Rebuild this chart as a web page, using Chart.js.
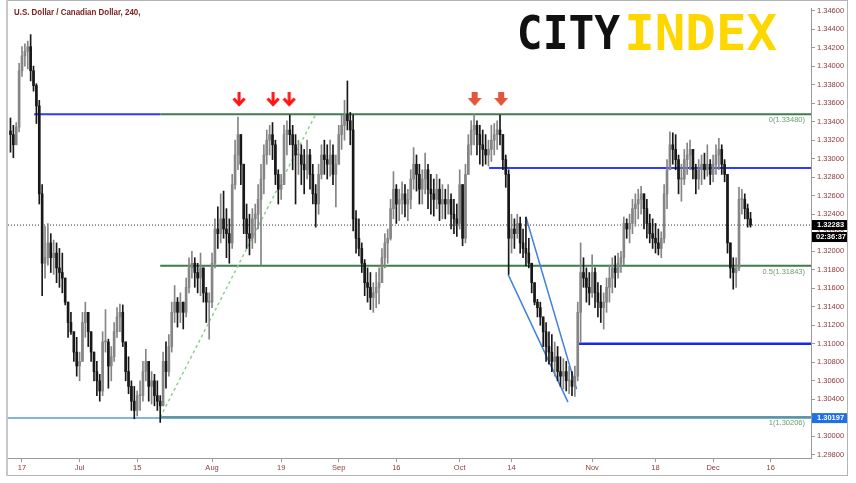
<!DOCTYPE html>
<html>
<head>
<meta charset="utf-8">
<title>USD/CAD 240</title>
<script src="https://cdn.jsdelivr.net/npm/chart.js@4.4.0/dist/chart.umd.min.js"></script>
<style>
  html, body { margin: 0; padding: 0; background: #fff; }
  #wrap { width: 856px; height: 483px; }
</style>
</head>
<body>
<div id="wrap"><canvas id="fxChart" width="856" height="483"></canvas></div>
<script>
// half-day candles, x = trading days counted from Mon 17 Jun 2019
const firstDay = -2;
const barStep = 0.5;
const firstOpen = 1.3330;

const highs = [
  1.3344, 1.3336, 1.3339, 1.3403, 1.3421, 1.3424, 1.3427, 1.3434, 1.3400, 1.3381,
  1.3363, 1.3272, 1.3227, 1.3230, 1.3219, 1.3212, 1.3209, 1.3203, 1.3198, 1.3166,
  1.3137, 1.3134, 1.3113, 1.3107, 1.3091, 1.3134, 1.3145, 1.3134, 1.3113, 1.3088,
  1.3081, 1.3067, 1.3113, 1.3137, 1.3105, 1.3097, 1.3123, 1.3139, 1.3143, 1.3142,
  1.3095, 1.3086, 1.3060, 1.3054, 1.3049, 1.3060, 1.3081, 1.3094, 1.3081, 1.3070,
  1.3067, 1.3060, 1.3044, 1.3091, 1.3102, 1.3110, 1.3145, 1.3163, 1.3150, 1.3155,
  1.3145, 1.3171, 1.3193, 1.3200, 1.3193, 1.3187, 1.3198, 1.3177, 1.3161, 1.3155,
  1.3198, 1.3235, 1.3248, 1.3262, 1.3265, 1.3246, 1.3235, 1.3283, 1.3320, 1.3345,
  1.3326, 1.3288, 1.3251, 1.3240, 1.3246, 1.3251, 1.3272, 1.3294, 1.3315, 1.3331,
  1.3336, 1.3339, 1.3320, 1.3288, 1.3283, 1.3336, 1.3341, 1.3347, 1.3336, 1.3326,
  1.3320, 1.3315, 1.3310, 1.3320, 1.3310, 1.3294, 1.3272, 1.3294, 1.3315, 1.3320,
  1.3315, 1.3320, 1.3315, 1.3304, 1.3336, 1.3347, 1.3363, 1.3384, 1.3350, 1.3347,
  1.3244, 1.3235, 1.3209, 1.3191, 1.3182, 1.3177, 1.3166, 1.3177, 1.3182, 1.3203,
  1.3219, 1.3224, 1.3256, 1.3286, 1.3272, 1.3267, 1.3275, 1.3272, 1.3267, 1.3288,
  1.3312, 1.3304, 1.3294, 1.3288, 1.3306, 1.3294, 1.3283, 1.3278, 1.3283, 1.3278,
  1.3272, 1.3267, 1.3272, 1.3262, 1.3256, 1.3251, 1.3288, 1.3267, 1.3294, 1.3326,
  1.3341, 1.3348, 1.3341, 1.3336, 1.3331, 1.3326, 1.3320, 1.3336, 1.3338, 1.3341,
  1.3347, 1.3322, 1.3304, 1.3288, 1.3240, 1.3235, 1.3240, 1.3237, 1.3224, 1.3237,
  1.3214, 1.3187, 1.3166, 1.3148, 1.3145, 1.3127, 1.3123, 1.3113, 1.3110, 1.3102,
  1.3097, 1.3086, 1.3084, 1.3081, 1.3076, 1.3070, 1.3076, 1.3145, 1.3209, 1.3193,
  1.3182, 1.3177, 1.3196, 1.3182, 1.3166, 1.3163, 1.3155, 1.3171, 1.3185, 1.3193,
  1.3195, 1.3198, 1.3200, 1.3237, 1.3235, 1.3240, 1.3256, 1.3262, 1.3267, 1.3270,
  1.3262, 1.3256, 1.3240, 1.3235, 1.3230, 1.3224, 1.3221, 1.3272, 1.3299, 1.3329,
  1.3328, 1.3326, 1.3304, 1.3294, 1.3310, 1.3317, 1.3320, 1.3310, 1.3294, 1.3299,
  1.3304, 1.3306, 1.3315, 1.3299, 1.3304, 1.3315, 1.3322, 1.3315, 1.3299, 1.3283,
  1.3209, 1.3193, 1.3193, 1.3269, 1.3267, 1.3262, 1.3251, 1.3242
];

const lows = [
  1.3307, 1.3301, 1.3318, 1.3329, 1.3389, 1.3400, 1.3397, 1.3384, 1.3373, 1.3338,
  1.3251, 1.3152, 1.3171, 1.3185, 1.3177, 1.3175, 1.3166, 1.3161, 1.3155, 1.3142,
  1.3107, 1.3110, 1.3081, 1.3065, 1.3060, 1.3081, 1.3107, 1.3097, 1.3081, 1.3060,
  1.3044, 1.3038, 1.3044, 1.3091, 1.3052, 1.3060, 1.3081, 1.3107, 1.3113, 1.3097,
  1.3060, 1.3046, 1.3028, 1.3019, 1.3022, 1.3028, 1.3038, 1.3060, 1.3038, 1.3035,
  1.3033, 1.3028, 1.3015, 1.3033, 1.3052, 1.3065, 1.3091, 1.3123, 1.3118, 1.3123,
  1.3116, 1.3129, 1.3155, 1.3171, 1.3161, 1.3155, 1.3152, 1.3145, 1.3123, 1.3105,
  1.3139, 1.3182, 1.3203, 1.3209, 1.3214, 1.3193, 1.3187, 1.3203, 1.3267, 1.3288,
  1.3272, 1.3219, 1.3203, 1.3196, 1.3203, 1.3209, 1.3224, 1.3185, 1.3262, 1.3294,
  1.3304, 1.3299, 1.3272, 1.3251, 1.3256, 1.3278, 1.3304, 1.3315, 1.3288, 1.3251,
  1.3283, 1.3272, 1.3262, 1.3278, 1.3267, 1.3251, 1.3226, 1.3240, 1.3278, 1.3283,
  1.3278, 1.3281, 1.3272, 1.3248, 1.3294, 1.3310, 1.3320, 1.3331, 1.3315, 1.3222,
  1.3198, 1.3195, 1.3177, 1.3152, 1.3145, 1.3137, 1.3134, 1.3139, 1.3143, 1.3166,
  1.3182, 1.3187, 1.3212, 1.3235, 1.3230, 1.3233, 1.3240, 1.3237, 1.3233, 1.3246,
  1.3267, 1.3265, 1.3251, 1.3251, 1.3262, 1.3246, 1.3240, 1.3238, 1.3246, 1.3233,
  1.3235, 1.3235, 1.3240, 1.3224, 1.3219, 1.3216, 1.3224, 1.3206, 1.3209, 1.3286,
  1.3304, 1.3315, 1.3304, 1.3294, 1.3292, 1.3294, 1.3292, 1.3297, 1.3304, 1.3310,
  1.3315, 1.3288, 1.3269, 1.3175, 1.3198, 1.3203, 1.3214, 1.3198, 1.3193, 1.3184,
  1.3182, 1.3155, 1.3142, 1.3129, 1.3120, 1.3097, 1.3081, 1.3078, 1.3070, 1.3065,
  1.3060, 1.3054, 1.3051, 1.3049, 1.3046, 1.3044, 1.3043, 1.3060, 1.3102, 1.3161,
  1.3145, 1.3142, 1.3150, 1.3139, 1.3129, 1.3123, 1.3116, 1.3134, 1.3145, 1.3155,
  1.3161, 1.3171, 1.3177, 1.3185, 1.3214, 1.3209, 1.3219, 1.3227, 1.3235, 1.3240,
  1.3224, 1.3214, 1.3209, 1.3203, 1.3198, 1.3196, 1.3193, 1.3209, 1.3246, 1.3288,
  1.3294, 1.3288, 1.3262, 1.3254, 1.3272, 1.3283, 1.3288, 1.3278, 1.3262, 1.3267,
  1.3272, 1.3278, 1.3281, 1.3272, 1.3275, 1.3283, 1.3288, 1.3283, 1.3275, 1.3198,
  1.3171, 1.3159, 1.3161, 1.3179, 1.3240, 1.3235, 1.3226, 1.3226
];

const closes = [
  1.3326, 1.3315, 1.3334, 1.3395, 1.3411, 1.3416, 1.3421, 1.3395, 1.3379, 1.3357,
  1.3262, 1.3187, 1.3193, 1.3209, 1.3193, 1.3198, 1.3182, 1.3177, 1.3171, 1.3145,
  1.3123, 1.3113, 1.3091, 1.3076, 1.3081, 1.3123, 1.3134, 1.3113, 1.3091, 1.3070,
  1.3060, 1.3049, 1.3102, 1.3102, 1.3076, 1.3086, 1.3113, 1.3129, 1.3134, 1.3102,
  1.3070, 1.3054, 1.3038, 1.3028, 1.3044, 1.3044, 1.3070, 1.3081, 1.3054, 1.3060,
  1.3044, 1.3038, 1.3033, 1.3081, 1.3070, 1.3097, 1.3134, 1.3145, 1.3134, 1.3145,
  1.3134, 1.3161, 1.3182, 1.3187, 1.3177, 1.3171, 1.3182, 1.3155, 1.3145, 1.3145,
  1.3187, 1.3224, 1.3219, 1.3235, 1.3224, 1.3219, 1.3209, 1.3272, 1.3304, 1.3326,
  1.3294, 1.3235, 1.3219, 1.3214, 1.3235, 1.3240, 1.3256, 1.3278, 1.3304, 1.3320,
  1.3326, 1.3315, 1.3283, 1.3267, 1.3272, 1.3326, 1.3331, 1.3326, 1.3315, 1.3304,
  1.3304, 1.3294, 1.3288, 1.3304, 1.3283, 1.3262, 1.3251, 1.3283, 1.3304, 1.3299,
  1.3294, 1.3304, 1.3283, 1.3294, 1.3326, 1.3336, 1.3347, 1.3341, 1.3331, 1.3235,
  1.3214, 1.3203, 1.3187, 1.3166, 1.3161, 1.3150, 1.3155, 1.3161, 1.3166, 1.3193,
  1.3209, 1.3214, 1.3246, 1.3267, 1.3251, 1.3256, 1.3262, 1.3251, 1.3256, 1.3278,
  1.3294, 1.3283, 1.3267, 1.3278, 1.3288, 1.3267, 1.3262, 1.3256, 1.3267, 1.3251,
  1.3256, 1.3251, 1.3256, 1.3240, 1.3235, 1.3230, 1.3272, 1.3214, 1.3283, 1.3315,
  1.3331, 1.3336, 1.3326, 1.3315, 1.3310, 1.3304, 1.3310, 1.3320, 1.3326, 1.3331,
  1.3326, 1.3299, 1.3283, 1.3214, 1.3224, 1.3219, 1.3230, 1.3209, 1.3203, 1.3198,
  1.3187, 1.3166, 1.3145, 1.3139, 1.3129, 1.3113, 1.3097, 1.3091, 1.3081, 1.3086,
  1.3070, 1.3065, 1.3070, 1.3060, 1.3060, 1.3054, 1.3065, 1.3134, 1.3177, 1.3171,
  1.3161, 1.3155, 1.3177, 1.3155, 1.3145, 1.3139, 1.3145, 1.3161, 1.3171, 1.3182,
  1.3177, 1.3187, 1.3193, 1.3230, 1.3224, 1.3230, 1.3246, 1.3251, 1.3256, 1.3262,
  1.3246, 1.3230, 1.3219, 1.3214, 1.3209, 1.3203, 1.3214, 1.3262, 1.3288, 1.3315,
  1.3310, 1.3299, 1.3278, 1.3278, 1.3299, 1.3304, 1.3310, 1.3288, 1.3278, 1.3288,
  1.3294, 1.3288, 1.3294, 1.3283, 1.3294, 1.3304, 1.3310, 1.3294, 1.3283, 1.3209,
  1.3182, 1.3177, 1.3182, 1.3256, 1.3256, 1.3246, 1.3235, 1.32283
];

// x axis (trading days) and its labels
const dayMin = -2.43;
const dayMax = 137.0;
const axisDays = [0, 10, 20, 33, 45, 55, 65, 76, 85, 99, 110, 120, 130];
const axisLabels = ['17', 'Jul', '15', 'Aug', '19', 'Sep', '16', 'Oct', '14', 'Nov', '18', 'Dec', '16'];

// price axis
const priceMin = 1.29766;
const priceMax = 1.34628;
const priceStep = 0.002;

// drawings
const fibStartDay = 24.0;
const fibLevels = [1.33480, 1.31843, 1.30206];
const fibNames = ['0', '0.5', '1'];
const lastPrice = 1.32283;
const countdown = '02:36:37';
const lowLine = 1.30197;
const topBlue = { level: 1.3348, from: 2.1, to: 24.0 };
const midBlue = { level: 1.3290, from: 81.1 };
const lowBlue = { level: 1.3100, from: 96.5 };
const trendDays = [24.0, 51.0];
const trendPrices = [1.30206, 1.33480];
const wedgeLowerDays = [84.4, 94.8];
const wedgeLowerPrices = [1.3175, 1.3037];
const wedgeUpperDays = [87.5, 96.3];
const wedgeUpperPrices = [1.3237, 1.3051];
const redArrowDays = [37.7, 43.6, 46.4];
const orangeArrowDays = [78.6, 83.2];
const arrowLevel = 1.3364;

const axisColor = '#8b3a3a';
const fontFam = "'Liberation Sans', Arial, sans-serif";

// --- build candle datasets ---
const wicks = [];
const bodies = [];
const candleColors = [];
closes.forEach((c, i) => {
  const o = i === 0 ? firstOpen : closes[i - 1];
  const d = firstDay + i * barStep;
  const hi = Math.max(highs[i], o, c);
  const lo = Math.min(lows[i], o, c);
  wicks.push({ x: d, y: [lo, hi] });
  bodies.push({ x: d, y: [Math.min(o, c), Math.max(o, c)] });
  candleColors.push(c >= o ? '#858585' : '#181818');
});

function hline(level, from, to, color, width, dash) {
  return {
    type: 'line',
    data: [{ x: from, y: level }, { x: to, y: level }],
    borderColor: color,
    borderWidth: width,
    borderDash: dash || [],
    pointRadius: 0,
    order: 3
  };
}

function segment(days, prices, color, width, dash) {
  return {
    type: 'line',
    data: days.map((d, i) => ({ x: d, y: prices[i] })),
    borderColor: color,
    borderWidth: width,
    borderDash: dash || [],
    pointRadius: 0,
    order: 2
  };
}

function makeArrow(color, filled) {
  const c = document.createElement('canvas');
  c.width = 14; c.height = 15;
  const g = c.getContext('2d');
  g.fillStyle = color;
  g.strokeStyle = color;
  if (filled) {
    g.fillRect(4, 0, 6, 7);
    g.beginPath(); g.moveTo(0, 6); g.lineTo(14, 6); g.lineTo(7, 14); g.closePath(); g.fill();
  } else {
    g.lineWidth = 3;
    g.beginPath(); g.moveTo(7, 0); g.lineTo(7, 12); g.stroke();
    g.beginPath(); g.moveTo(1.5, 6.5); g.lineTo(7, 12.5); g.lineTo(12.5, 6.5); g.stroke();
  }
  return c;
}

function drawFitted(ctx, text, font, color, left, right, top, bottom) {
  ctx.save();
  ctx.font = font;
  const m = ctx.measureText(text);
  const w = m.actualBoundingBoxLeft + m.actualBoundingBoxRight;
  const h = m.actualBoundingBoxAscent + m.actualBoundingBoxDescent;
  ctx.translate(left, top);
  ctx.scale((right - left) / w, (bottom - top) / h);
  ctx.fillStyle = color;
  ctx.textBaseline = 'alphabetic';
  ctx.textAlign = 'left';
  ctx.fillText(text, m.actualBoundingBoxLeft, m.actualBoundingBoxAscent);
  ctx.restore();
}

const overlay = {
  id: 'overlay',
  afterDraw(chart) {
    const { ctx, chartArea, scales: { y } } = chart;
    ctx.save();

    // frame
    ctx.strokeStyle = '#b4b4b4';
    ctx.lineWidth = 1;
    ctx.strokeRect(7.5, 0.5, 840, 475);
    ctx.strokeStyle = '#c8c8c8';
    ctx.lineWidth = 2;
    ctx.beginPath(); ctx.moveTo(7, 0); ctx.lineTo(7, 476); ctx.stroke();

    // title
    drawFitted(ctx, 'U.S. Dollar / Canadian Dollar, 240,', 'bold 9px ' + fontFam, '#7a2020', 14, 140, 8, 17);

    // logo
    drawFitted(ctx, 'CITY', "bold 40px 'DejaVu Sans Mono'", '#111111', 519, 620, 13, 50);
    drawFitted(ctx, 'INDEX', "bold 40px 'DejaVu Sans Mono'", '#ffd700', 628, 777, 13, 50);

    // fib labels
    ctx.font = '7.5px ' + fontFam;
    ctx.fillStyle = '#6a9c6a';
    ctx.textAlign = 'right';
    ctx.textBaseline = 'top';
    fibLevels.forEach((lv, i) => {
      ctx.fillText(fibNames[i] + '(' + lv.toFixed(5) + ')', chartArea.right - 6, y.getPixelForValue(lv) + 2);
    });

    // price boxes on the axis
    const boxL = chartArea.right + 1;
    const boxW = 35;
    ctx.textAlign = 'left';
    ctx.textBaseline = 'middle';
    ctx.font = 'bold 7.5px ' + fontFam;
    const py = y.getPixelForValue(lastPrice);
    ctx.fillStyle = '#000';
    ctx.fillRect(boxL, py - 5, boxW, 10);
    ctx.fillRect(boxL, py + 7, boxW, 10);
    ctx.fillStyle = '#fff';
    ctx.fillText(lastPrice.toFixed(5), boxL + 5, py);
    ctx.fillText(countdown, boxL + 4, py + 12);
    const by = y.getPixelForValue(lowLine);
    ctx.fillStyle = '#1f6fe5';
    ctx.fillRect(boxL, by - 5, boxW, 10);
    ctx.fillStyle = '#fff';
    ctx.fillText(lowLine.toFixed(5), boxL + 5, by);

    ctx.restore();
  }
};

const ctx = document.getElementById('fxChart').getContext('2d');
new Chart(ctx, {
  type: 'bar',
  data: {
    datasets: [
      hline(lowLine, dayMin, dayMax, '#5a9be6', 1.5),
      hline(topBlue.level, topBlue.from, topBlue.to, '#2b3bff', 2),
      hline(midBlue.level, midBlue.from, dayMax, '#2b3bff', 2),
      hline(lowBlue.level, lowBlue.from, dayMax, '#1a2ae0', 2.5),
      ...fibLevels.map(lv => hline(lv, fibStartDay, dayMax, '#3d7d4d', 2)),
      hline(lastPrice, dayMin, dayMax, '#333333', 1, [1, 2]),
      segment(trendDays, trendPrices, '#8fd08f', 1.5, [3, 3]),
      segment(wedgeLowerDays, wedgeLowerPrices, '#3f80e0', 1.5),
      segment(wedgeUpperDays, wedgeUpperPrices, '#3f80e0', 1.5),
      {
        type: 'bar',
        data: wicks,
        backgroundColor: candleColors,
        barThickness: 1,
        grouped: false,
        order: 1
      },
      {
        type: 'bar',
        data: bodies,
        backgroundColor: candleColors,
        barThickness: 2,
        minBarLength: 1,
        grouped: false,
        order: 0
      },
      {
        type: 'line',
        data: redArrowDays.map(d => ({ x: d, y: arrowLevel })),
        showLine: false,
        pointStyle: makeArrow('#ff1414', false),
        pointRadius: 7,
        order: 0
      },
      {
        type: 'line',
        data: orangeArrowDays.map(d => ({ x: d, y: arrowLevel })),
        showLine: false,
        pointStyle: makeArrow('#e2573c', true),
        pointRadius: 7,
        order: 0
      }
    ]
  },
  options: {
    responsive: false,
    animation: false,
    layout: { padding: { left: 8, top: 1, right: 9, bottom: 8 } },
    plugins: { legend: { display: false }, tooltip: { enabled: false } },
    scales: {
      x: {
        type: 'linear',
        min: dayMin,
        max: dayMax,
        offset: false,
        afterBuildTicks: (scale) => { scale.ticks = axisDays.map(v => ({ value: v })); },
        afterFit: (scale) => { scale.height = 17; },
        grid: { drawOnChartArea: false, drawTicks: true, tickLength: 4, color: '#9a9a9a', offset: false },
        border: { color: '#9a9a9a' },
        ticks: {
          autoSkip: false,
          maxRotation: 0,
          padding: 1,
          color: axisColor,
          font: { family: fontFam, size: 7.5 },
          callback: (v, i) => axisLabels[i]
        }
      },
      y: {
        position: 'right',
        min: priceMin,
        max: priceMax,
        afterFit: (scale) => { scale.width = 36; },
        grid: { drawOnChartArea: false, drawTicks: true, tickLength: 4, color: '#9a9a9a' },
        border: { color: '#9a9a9a' },
        ticks: {
          stepSize: priceStep,
          includeBounds: false,
          autoSkip: false,
          padding: 2,
          color: axisColor,
          font: { family: fontFam, size: 7.5 },
          callback: v => v.toFixed(5)
        }
      }
    }
  },
  plugins: [overlay]
});
</script>
</body>
</html>
